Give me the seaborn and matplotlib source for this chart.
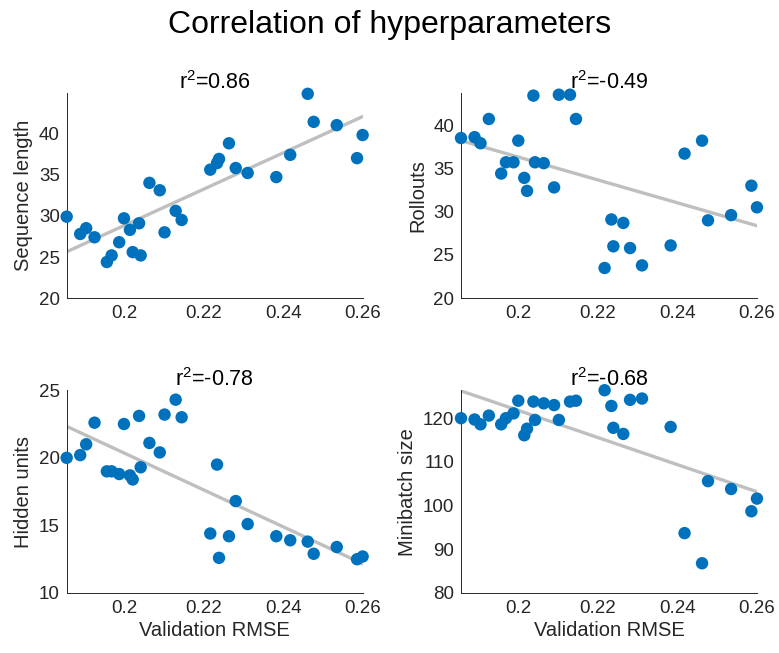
import matplotlib
matplotlib.use('Agg')
import matplotlib.pyplot as plt
import numpy as np
import pandas as pd
import seaborn as sns


# validation RMSE of each run (shared by all panels)
rmse = [0.1856, 0.1890, 0.1905, 0.1926, 0.1957, 0.1969, 0.1988, 0.2000, 0.2015, 0.2022,
        0.2038, 0.2042, 0.2064, 0.2090, 0.2102, 0.2130, 0.2145, 0.2217, 0.2234, 0.2239,
        0.2264, 0.2281, 0.2311, 0.2383, 0.2418, 0.2462, 0.2477, 0.2535, 0.2586, 0.2600]

seq_length = [29.9, 27.8, 28.5, 27.4, 24.4, 25.2, 26.8, 29.7, 28.3, 25.6,
              29.1, 25.2, 34.0, 33.1, 28.0, 30.6, 29.5, 35.6, 36.4, 36.9,
              38.8, 35.8, 35.2, 34.7, 37.4, 44.8, 41.4, 41.0, 37.0, 39.8]

rollouts = [38.5, 38.6, 37.9, 40.7, 34.4, 35.7, 35.7, 38.2, 33.9, 32.4,
            43.4, 35.7, 35.6, 32.8, 43.5, 43.5, 40.7, 23.5, 29.1, 26.0,
            28.7, 25.8, 23.8, 26.1, 36.7, 38.2, 29.0, 29.6, 33.0, 30.5]

hidden_units = [20.0, 20.2, 21.0, 22.6, 19.0, 19.0, 18.8, 22.5, 18.7, 18.4,
                23.1, 19.3, 21.1, 20.4, 23.2, 24.3, 23.0, 14.4, 19.5, 12.6,
                14.2, 16.8, 15.1, 14.2, 13.9, 13.8, 12.9, 13.4, 12.5, 12.7]

minibatch = [120.0, 119.7, 118.6, 120.6, 118.6, 120.0, 121.1, 124.0, 116.1, 117.6,
             123.8, 119.6, 123.4, 123.0, 119.6, 123.8, 124.0, 126.4, 122.8, 117.8,
             116.4, 124.2, 124.5, 118.0, 93.7, 86.8, 105.6, 103.8, 98.7, 101.6]

titles = ['r$^{\\mathrm{2}}$=0.86', 'r$^{\\mathrm{2}}$=-0.49',
          'r$^{\\mathrm{2}}$=-0.78', 'r$^{\\mathrm{2}}$=-0.68']
ylabels = ['Sequence length', 'Rollouts', 'Hidden units', 'Minibatch size']

sns.set_style('white')
plt.rcParams['font.family'] = ['Liberation Sans', 'DejaVu Sans']
plt.rcParams['mathtext.fontset'] = 'custom'
plt.rcParams['mathtext.rm'] = 'Liberation Sans'
plt.rcParams['mathtext.it'] = 'Liberation Sans'

DOT = '#0072BD'
FIT = '#BFBFBF'
INK = '#262626'

df = pd.DataFrame({'rmse': rmse, 'Sequence length': seq_length, 'Rollouts': rollouts,
                   'Hidden units': hidden_units, 'Minibatch size': minibatch})

fig = plt.figure(figsize=(7.79, 6.53), dpi=100)
positions = [[0.0856, 0.5432, 0.3804, 0.3144], [0.5918, 0.5432, 0.3804, 0.3144],
             [0.0856, 0.0919, 0.3804, 0.3105], [0.5918, 0.0919, 0.3804, 0.3105]]
ylims = [(20, 44.9), (20, 43.7), (10, 25), (80, 126.4)]
yticks = [np.arange(20, 41, 5), np.arange(20, 41, 5), np.arange(10, 26, 5), np.arange(80, 121, 10)]

for i, col in enumerate(ylabels):
    ax = fig.add_axes(positions[i])
    sns.regplot(data=df, x='rmse', y=col, ax=ax, scatter=False, ci=None,
                line_kws={'color': FIT, 'lw': 2.4, 'zorder': 1})
    sns.scatterplot(data=df, x='rmse', y=col, ax=ax, color=DOT, s=80,
                    edgecolor='none', clip_on=False, zorder=3)
    ax.set_xlim(0.1856, 0.2601)
    ax.set_ylim(*ylims[i])
    ax.set_xticks([0.2, 0.22, 0.24, 0.26])
    ax.set_xticklabels(['0.2', '0.22', '0.24', '0.26'])
    ax.set_yticks(yticks[i])
    ax.tick_params(direction='in', length=3.5, width=0.7, colors=INK,
                   labelsize=13.5, pad=5)
    for s in ['top', 'right']:
        ax.spines[s].set_visible(False)
    for s in ['left', 'bottom']:
        ax.spines[s].set_color(INK)
        ax.spines[s].set_linewidth(0.7)
    ax.set_ylabel(col, fontsize=14.5, color=INK, labelpad=4)
    if i >= 2:
        ax.set_xlabel('Validation RMSE', fontsize=14.5, color=INK, labelpad=3)
    else:
        ax.set_xlabel('')
    ax.set_title(titles[i], fontsize=15.5, color='black', pad=3)

fig.suptitle('Correlation of hyperparameters', fontsize=23, color='black', y=0.985)

plt.savefig('out.png', dpi=100)
